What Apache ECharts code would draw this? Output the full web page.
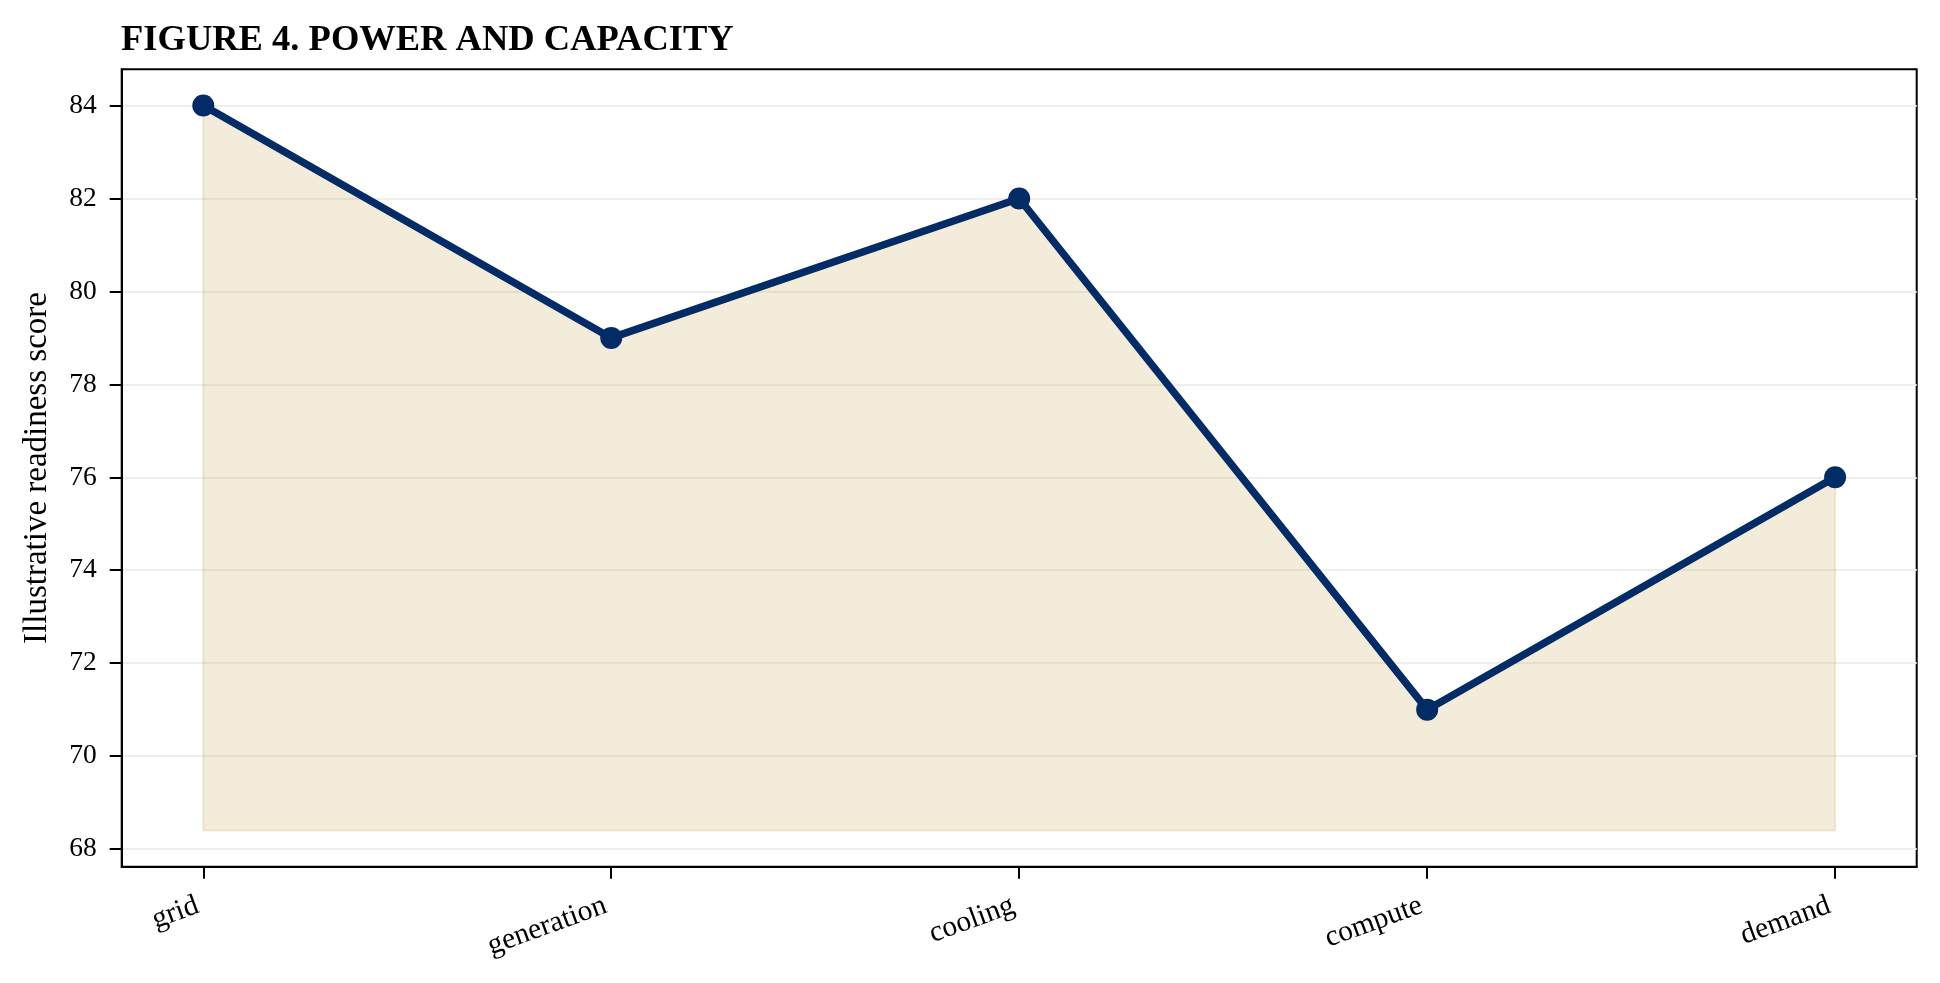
<!DOCTYPE html>
<html>
<head>
<meta charset="utf-8">
<title>Figure 4. Power and capacity</title>
<script src="https://cdn.jsdelivr.net/npm/echarts@6/dist/echarts.min.js"></script>
<style>
  html, body { margin: 0; padding: 0; background: #fff; }
  #main { width: 1940px; height: 983px; }
</style>
</head>
<body>
<div id="main"></div>
<script>
// chart data
var categories = ['grid', 'generation', 'cooling', 'compute', 'demand'];
var scores = [84, 79, 82, 71, 76];
var yTicks = [68, 70, 72, 74, 76, 78, 80, 82, 84];
var fillBase = 68.4;

var serif = "'Liberation Serif', 'Times New Roman', serif";
var navy = '#032b66';

var myChart = echarts.init(document.getElementById('main'));

var points = [];
for (var i = 0; i < scores.length; i++) {
    points.push([i, scores[i]]);
}
var xTicks = [];
for (var k = 0; k < categories.length; k++) {
    xTicks.push(k);
}

// shaded area under the line, down to the fill base
function renderFill(params, api) {
    if (params.dataIndex !== 0) {
        return;
    }
    var poly = [];
    for (var i = 0; i < points.length; i++) {
        poly.push(api.coord(points[i]));
    }
    poly.push(api.coord([points.length - 1, fillBase]));
    poly.push(api.coord([0, fillBase]));
    return {
        type: 'polygon',
        shape: { points: poly },
        style: {
            fill: 'rgba(200,162,74,0.2)',
            stroke: 'rgba(200,162,74,0.22)',
            lineWidth: 2
        }
    };
}

myChart.setOption({
    animation: false,
    backgroundColor: '#fff',
    title: {
        text: 'FIGURE 4. POWER AND CAPACITY',
        left: 121,
        top: 22,
        padding: 0,
        textStyle: {
            fontFamily: serif,
            fontWeight: 'bold',
            fontSize: 36.5,
            color: '#000'
        }
    },
    grid: {
        left: 121.7,
        right: 23.3,
        top: 69.3,
        bottom: 116.3,
        show: true,
        borderColor: '#000',
        borderWidth: 2,
        backgroundColor: 'transparent'
    },
    xAxis: {
        type: 'value',
        min: -0.2,
        max: 4.2,
        axisLine: { show: true, onZero: false, lineStyle: { color: '#000', width: 2 } },
        axisTick: { show: true, customValues: xTicks, length: 12, lineStyle: { color: '#000', width: 2 } },
        axisLabel: {
            customValues: xTicks,
            rotate: 20,
            margin: 36,
            padding: [0, 6, 0, 0],
            fontFamily: serif,
            fontSize: 29.5,
            color: '#000',
            formatter: function (v) { return categories[v]; }
        },
        splitLine: { show: false }
    },
    yAxis: {
        type: 'value',
        min: 67.62,
        max: 84.78,
        name: 'Illustrative readiness score',
        nameLocation: 'middle',
        nameGap: 68,
        nameTextStyle: { fontFamily: serif, fontSize: 33, color: '#000' },
        axisLine: { show: true, onZero: false, lineStyle: { color: '#000', width: 2 } },
        axisTick: { show: true, customValues: yTicks, length: 12, lineStyle: { color: '#000', width: 2 } },
        axisLabel: {
            customValues: yTicks,
            margin: 25,
            fontFamily: serif,
            fontSize: 27.5,
            color: '#000'
        },
        splitLine: { show: true, lineStyle: { color: '#eeeeee', width: 2 } }
    },
    series: [
        {
            type: 'custom',
            renderItem: renderFill,
            data: points,
            z: 1,
            silent: true
        },
        {
            type: 'line',
            data: points,
            z: 3,
            symbol: 'circle',
            symbolSize: 22,
            itemStyle: { color: navy },
            lineStyle: { color: navy, width: 7.5 }
        }
    ]
});
</script>
</body>
</html>
